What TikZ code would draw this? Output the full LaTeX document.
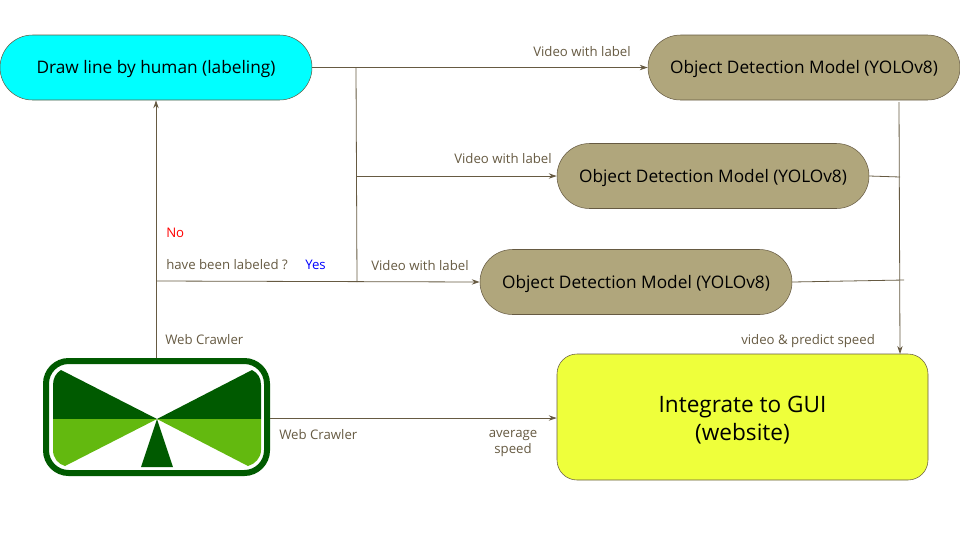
\documentclass[tikz,border=0pt]{standalone}
\usepackage{xcolor}
\usepackage{fontspec}
\setmainfont{Open Sans}
\usetikzlibrary{arrows.meta}
\definecolor{line}{HTML}{665A42}
\definecolor{tan}{HTML}{B0A67C}
\definecolor{aqua}{HTML}{00FFFF}
\definecolor{lime}{HTML}{63B90F}
\definecolor{dkgreen}{HTML}{005A00}
\definecolor{gui}{HTML}{EEFF3B}
\tikzset{
  box/.style={rectangle,draw=line,rounded corners=32.5*0.75pt,align=center,
    minimum width=312*0.75pt,minimum height=65*0.75pt,inner sep=0pt,text height=9pt,text depth=0pt,
    font=\fontsize{12.95pt}{15pt}\selectfont,text=black},
  model/.style={box,fill=tan},
  lbl/.style={anchor=base west,inner sep=0pt,text=line,font=\fontsize{9.9pt}{12pt}\selectfont},
  fl/.style={-{Stealth[length=6pt,width=4pt]},draw=line,line width=0.6pt},
  pl/.style={draw=line,line width=0.6pt},
}

\begin{document}
\begin{tikzpicture}[x=0.75pt,y=-0.75pt]
  \useasboundingbox (0,0) rectangle (960,540);
  \node[box,fill=aqua] (human) at (156,67.5) {Draw line by human (labeling)};
  \node[model] (m1) at (804,67.5) {Object Detection Model (YOLOv8)};
  \node[model] (m2) at (713,176) {Object Detection Model (YOLOv8)};
  \node[model] (m3) at (636,282) {Object Detection Model (YOLOv8)};
  \node[rectangle,draw=line,fill=gui,rounded corners=15pt,align=center,minimum width=371*0.75pt,
    minimum height=126*0.75pt,font=\fontsize{16.95pt}{21pt}\selectfont,text=black] (gui) at (742.5,417) {\rule{0pt}{17pt}Integrate to GUI\\(website)};
  % logo
  \node[rectangle,draw=dkgreen,line width=4.5pt,rounded corners=17pt,minimum width=221*0.75pt,
    minimum height=112*0.75pt,inner sep=0pt] (logo) at (156.5,417) {};
  \fill[dkgreen] (157,419) -- (61,370) .. controls (56,373) and (53,378) .. (53,385) -- (53,419) -- cycle;
  \fill[dkgreen] (157,419) -- (252,370) .. controls (258,373) and (261,378) .. (261,385) -- (261,419) -- cycle;
  \fill[lime] (157,419) -- (53,419) -- (53,450) .. controls (53,458) and (58,464) .. (65,466) -- cycle;
  \fill[lime] (157,419) -- (261,419) -- (261,450) .. controls (261,458) and (255,464) .. (248,466) -- cycle;
  \fill[dkgreen] (157,419) -- (141,467) -- (173,467) -- cycle;
  \coordinate (split) at (356,68);
  \coordinate (branch) at (356,176);
  \coordinate (join) at (357,282);
  \coordinate (turn) at (156,281);
  \coordinate (crawl) at (156,358);
  \coordinate (m1out) at (899,102);
  \coordinate (guiin) at (900,354);
  \coordinate (m2in) at (900,177);
  \coordinate (m3in) at (904,280);
  \draw[fl] (human.east) -- (m1.west);
  \draw[pl] (split) -- (join);
  \draw[fl] (branch) -- (m2.west);
  \draw[fl] (turn) -- (m3.west |- 0,282);
  \draw[fl] (crawl) -- (human.south -| crawl);
  \draw[fl] (logo.east |- 0,418) -- (gui.west |- 0,418);
  \draw[fl] (m1out) -- (guiin);
  \draw[pl] (m2.east) -- (m2in);
  \draw[pl] (m3.east) -- (m3in);
  \node[lbl] (t1) at (533,56) {Video with label};
  \node[lbl] (t2) at (454,163) {Video with label};
  \node[lbl] (t3) at (371,270) {Video with label};
  \node[lbl,text=red] (no) at (166,237) {No};
  \node[lbl] (ask) at (166,269) {have been labeled ?};
  \node[lbl,text=blue] (yes) at (305,269) {Yes};
  \node[lbl] (w1) at (165,344) {Web Crawler};
  \node[lbl] (w2) at (279,439) {Web Crawler};
  \node[lbl,anchor=center,align=center] (avg) at (513,443) {average\\speed};
  \node[lbl] (pred) at (741,344) {video \& predict speed};
\end{tikzpicture}
\end{document}
